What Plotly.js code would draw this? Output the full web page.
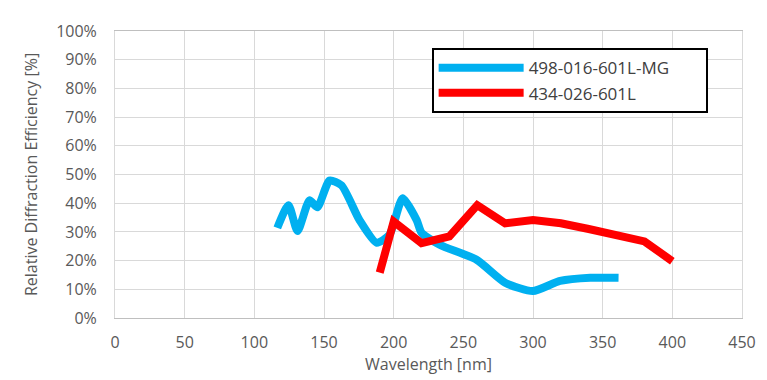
<!DOCTYPE html>
<html><head><meta charset="utf-8">
<script src="https://cdn.plot.ly/plotly-3.0.1.min.js"></script>
<style>html,body{margin:0;padding:0;background:#fff}#chart{width:767px;height:380px}</style>
</head><body><div id="chart"></div>
<script>
const blueName = "498-016-601L-MG";
const blueX = [116.5, 124.5, 131, 139.6, 145.3, 154, 162.6, 175.5, 187.8, 197, 206.5, 216.5, 220, 233, 259.5, 280, 300, 319.4, 341, 361.4];
const blueY = [31.4, 39.3, 30.3, 41, 38.6, 47.9, 46.2, 34.1, 26.2, 29, 41.7, 34.1, 29.7, 25.5, 20.3, 12.3, 9.4, 12.9, 14, 14];
const redName = "434-026-601L";
const redX = [190, 200, 220, 240, 260, 280, 300, 320, 340, 360, 380, 400];
const redY = [15.8, 33.6, 26.1, 28.4, 39.3, 33, 34.1, 33, 31, 29, 26.7, 19.8];
const xTicks = [0, 50, 100, 150, 200, 250, 300, 350, 400, 450];
const yTicks = [0, 10, 20, 30, 40, 50, 60, 70, 80, 90, 100];
const yTickLabels = ["0%", "10%", "20%", "30%", "40%", "50%", "60%", "70%", "80%", "90%", "100%"];

const font = "Open Sans, Noto Sans, sans-serif";
const traces = [
  {x: blueX, y: blueY, name: blueName + "\u00a0\u00a0\u00a0\u00a0\u00a0\u00a0\u00a0", mode: "lines", line: {color: "#00B0F0", width: 8, shape: "spline", smoothing: 0.6}},
  {x: redX, y: redY, name: redName, mode: "lines", line: {color: "#FF0000", width: 8}}
];
const layout = {
  width: 767, height: 380,
  margin: {l: 115, r: 25, t: 31, b: 62},
  paper_bgcolor: "#fff", plot_bgcolor: "#fff",
  font: {family: font, size: 15, color: "#595959"},
  showlegend: true,
  legend: {x: 0.505, y: 0.94, xanchor: "left", yanchor: "top", bgcolor: "#fff",
    bordercolor: "#000", borderwidth: 2, font: {size: 17, color: "#404040"},
    itemwidth: 85},
  xaxis: {range: [0, 450], tickvals: xTicks, showgrid: true, gridcolor: "#D9D9D9", gridwidth: 1,
    zeroline: false, showline: true, linecolor: "#BFBFBF", linewidth: 1, mirror: true, ticks: "",
    tickfont: {size: 16, color: "#595959"}, ticklabelstandoff: 10,
    title: {text: "Wavelength [nm]", font: {size: 16, color: "#595959"}, standoff: 2}},
  yaxis: {range: [0, 100], tickvals: yTicks, ticktext: yTickLabels, showgrid: true, gridcolor: "#D9D9D9", gridwidth: 1,
    zeroline: false, showline: true, linecolor: "#D9D9D9", linewidth: 1, mirror: true, ticks: "",
    tickfont: {size: 16, color: "#595959"}, ticklabelstandoff: 14,
    title: {text: "Relative Diffraction Efficiency [%]", font: {size: 16, color: "#595959"}, standoff: 14}}
};
Plotly.newPlot("chart", traces, layout, {displayModeBar: false, staticPlot: true});
</script></body></html>
